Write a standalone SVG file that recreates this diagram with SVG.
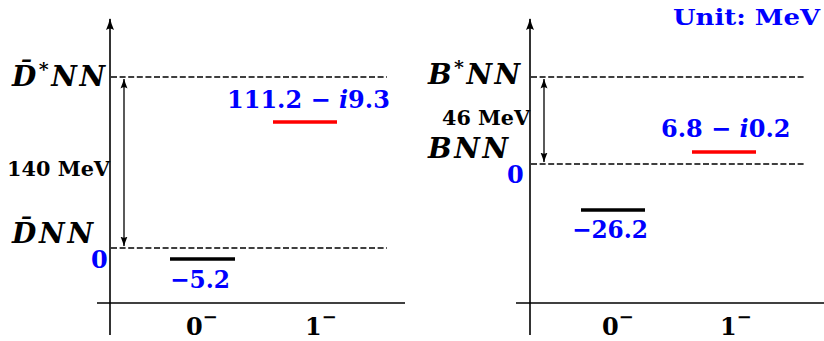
<svg xmlns="http://www.w3.org/2000/svg" width="824" height="341" viewBox="0 0 824 341">
<style>
.ax{stroke:#000;stroke-width:1.6;fill:none}
.dash{stroke:#000;stroke-width:1.4;stroke-dasharray:6 2.6;fill:none}
.dbl{stroke:#000;stroke-width:1.3;fill:none}
.red{stroke:#ff0000;stroke-width:3.5}
.blk{stroke:#000;stroke-width:3.5}
.t{font-family:"DejaVu Serif","Liberation Serif",serif;font-weight:bold}
.lab{font-style:italic;font-size:28px}
.val{fill:#0000ff;font-size:24px}
.mev{font-size:21px}
.jp{font-size:24px}
.m{font-style:italic}
</style>
<defs>
<marker id="ah" viewBox="0 0 12 10" refX="11" refY="5" markerWidth="12" markerHeight="10" markerUnits="userSpaceOnUse" orient="auto-start-reverse">
<path d="M0,1 Q7,4 12,5 Q7,6 0,9 Q3,5 0,1Z" fill="#000"/>
</marker>
<marker id="ah2" viewBox="0 0 10 8" refX="9.5" refY="4" markerWidth="10" markerHeight="8" markerUnits="userSpaceOnUse" orient="auto-start-reverse">
<path d="M0,0.5 Q6,3 10,4 Q6,5 0,7.5 Q2.5,4 0,0.5Z" fill="#000"/>
</marker>
</defs>

<g id="connectors">
<line class="ax" x1="110" y1="335" x2="110" y2="19" marker-end="url(#ah)"/>
<line class="ax" x1="97" y1="303" x2="405" y2="303"/>
<line class="dash" x1="111" y1="77" x2="387" y2="77"/>
<line class="dash" x1="111" y1="248" x2="387" y2="248"/>
<line class="dbl" x1="124" y1="79" x2="124" y2="246" marker-start="url(#ah2)" marker-end="url(#ah2)"/>
<line class="ax" x1="530" y1="335" x2="530" y2="19" marker-end="url(#ah)"/>
<line class="ax" x1="516" y1="303" x2="824" y2="303"/>
<line class="dash" x1="531" y1="77" x2="806" y2="77"/>
<line class="dash" x1="531" y1="164" x2="806" y2="164"/>
<line class="dbl" x1="544" y1="79" x2="544" y2="162" marker-start="url(#ah2)" marker-end="url(#ah2)"/>
</g>

<g id="left-dstar-threshold">
<text class="t lab" x="12" y="86" textLength="93" lengthAdjust="spacing">D&#x0304;<tspan font-size="19" dy="-10">*</tspan><tspan dy="10">NN</tspan></text>
</g>
<g id="left-d-threshold">
<text class="t lab" x="12" y="243" textLength="81" lengthAdjust="spacing">D&#x0304;NN</text>
<text class="t val" x="91" y="268">0</text>
</g>
<g id="left-gap">
<text class="t mev" x="7" y="176" textLength="103" lengthAdjust="spacingAndGlyphs">140 MeV</text>
</g>
<g id="left-level-1">
<line class="red" x1="273" y1="122" x2="337" y2="122"/>
<text class="t val" x="227" y="108" font-size="23">111.2 − <tspan class="m">i</tspan>9.3</text>
</g>
<g id="left-level-0">
<line class="blk" x1="170" y1="259" x2="235" y2="259"/>
<text class="t val" x="170" y="288" textLength="60" lengthAdjust="spacingAndGlyphs">−5.2</text>
</g>
<g id="left-jp">
<text class="t jp" x="186" y="335">0<tspan font-size="18" dy="-12">−</tspan></text>
<text class="t jp" x="305" y="335">1<tspan font-size="18" dy="-12">−</tspan></text>
</g>

<g id="unit">
<text class="t" x="673" y="25" font-size="23" fill="#0000ff" textLength="147" lengthAdjust="spacingAndGlyphs">Unit: MeV</text>
</g>
<g id="right-bstar-threshold">
<text class="t lab" x="428" y="84" textLength="92" lengthAdjust="spacing">B<tspan font-size="19" dy="-10">*</tspan><tspan dy="10">NN</tspan></text>
</g>
<g id="right-b-threshold">
<text class="t lab" x="428" y="158" textLength="80" lengthAdjust="spacing">BNN</text>
<text class="t val" x="507" y="183">0</text>
</g>
<g id="right-gap">
<text class="t mev" x="442" y="125" font-size="20" textLength="88" lengthAdjust="spacingAndGlyphs">46 MeV</text>
</g>
<g id="right-level-1">
<line class="red" x1="692" y1="152" x2="756" y2="152"/>
<text class="t val" x="661" y="137" font-size="23">6.8 − <tspan class="m">i</tspan>0.2</text>
</g>
<g id="right-level-0">
<line class="blk" x1="581" y1="210" x2="645" y2="210"/>
<text class="t val" x="572" y="238" textLength="76" lengthAdjust="spacingAndGlyphs">−26.2</text>
</g>
<g id="right-jp">
<text class="t jp" x="602" y="335">0<tspan font-size="18" dy="-12">−</tspan></text>
<text class="t jp" x="720" y="335">1<tspan font-size="18" dy="-12">−</tspan></text>
</g>
</svg>
